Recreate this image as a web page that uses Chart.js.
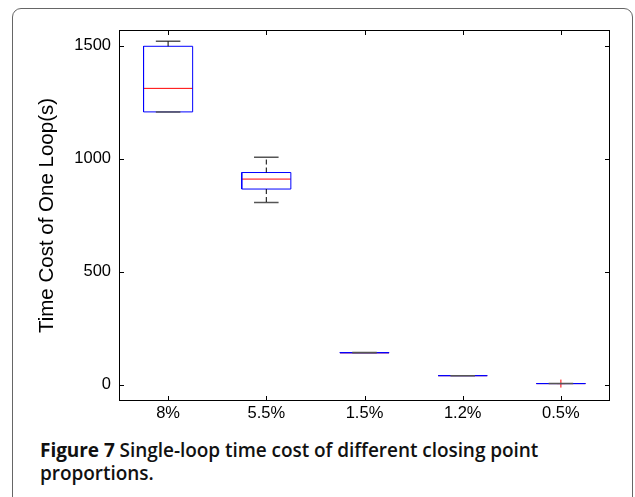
<!DOCTYPE html>
<html>
<head>
<meta charset="utf-8">
<script src="https://cdn.jsdelivr.net/npm/chart.js@4.4.1/dist/chart.umd.min.js"></script>
<style>
  html, body { margin: 0; padding: 0; background: #fff; width: 635px; height: 497px; overflow: hidden; }
  #frame { position: absolute; left: 12px; top: 8px; width: 619px; height: 600px; border: 1px solid #666; border-radius: 9px; }
  #wrap { position: absolute; left: 0; top: 0; width: 635px; height: 430px; }
  #caption { position: absolute; left: 40px; top: 439px; width: 540px; font-family: "Open Sans", sans-serif; font-weight: 600; font-size: 19px; line-height: 23px; color: #111; letter-spacing: -0.05px; }
  #caption b { font-weight: 700; }
</style>
</head>
<body>
<div id="frame"></div>
<div id="wrap"><canvas id="c" width="635" height="430"></canvas></div>
<div id="caption"><b>Figure 7</b> Single-loop time cost of different closing point proportions.</div>
<script>
// ---- data ----
const categories  = ['8%', '5.5%', '1.5%', '1.2%', '0.5%'];
const whiskerHigh = [1519, 1006, 143, 41, 6];
const quartile3   = [1497, 939, 143, 41, 6];
const medians     = [1311, 910, 142, 41, 6];
const quartile1   = [1207, 866, 142, 41, 6];
const whiskerLow  = [1207, 807, 142, 41, 6];
const outlierCat  = [5];
const outlierVal  = [6];
const yTicks      = [0, 500, 1000, 1500];
const yAxisTitle  = 'Time Cost of One Loop(s)';

const BOX_HALF = 0.25, CAP_HALF = 0.125;
const GAP = {x: null, y: null};

function segs(fn) {
  const out = [];
  categories.forEach((c, i) => { out.push(...fn(i + 1, i)); out.push(GAP); });
  return out;
}

const boxPts = segs((x, i) => [
  {x: x - BOX_HALF, y: quartile1[i]}, {x: x + BOX_HALF, y: quartile1[i]},
  {x: x + BOX_HALF, y: quartile3[i]}, {x: x - BOX_HALF, y: quartile3[i]},
  {x: x - BOX_HALF, y: quartile1[i]}]);
const medPts = segs((x, i) => [{x: x - BOX_HALF, y: medians[i]}, {x: x + BOX_HALF, y: medians[i]}]);
const upWPts = segs((x, i) => [{x: x, y: quartile3[i]}, {x: x, y: whiskerHigh[i]}]);
const loWPts = segs((x, i) => [{x: x, y: quartile1[i]}, {x: x, y: whiskerLow[i]}]);
const capPts = segs((x, i) => [{x: x - CAP_HALF, y: whiskerHigh[i]}, {x: x + CAP_HALF, y: whiskerHigh[i]}, GAP,
                               {x: x - CAP_HALF, y: whiskerLow[i]}, {x: x + CAP_HALF, y: whiskerLow[i]}]);
const outPts = outlierCat.map((c, i) => ({x: c, y: outlierVal[i]}));

const lineDs = (data, color, dash, width) => ({
  data, showLine: true, spanGaps: false, borderColor: color, borderWidth: width || 1,
  borderDash: dash || [], pointRadius: 0, fill: false, tension: 0
});

const frameTicks = {
  id: 'frameTicks',
  afterDatasetsDraw(chart) {
    const {ctx, chartArea: a, scales} = chart;
    ctx.save();
    ctx.strokeStyle = '#000';
    ctx.lineWidth = 1;
    ctx.strokeRect(Math.round(a.left) + 0.5, Math.round(a.top) + 0.5, Math.round(a.right - a.left) - 1, Math.round(a.bottom - a.top) - 1);
    const L = 5;
    ctx.beginPath();
    scales.x.ticks.forEach(t => {
      const px = Math.round(scales.x.getPixelForValue(t.value)) + 0.5;
      ctx.moveTo(px, a.bottom); ctx.lineTo(px, a.bottom - L);
      ctx.moveTo(px, a.top); ctx.lineTo(px, a.top + L);
    });
    scales.y.ticks.forEach(t => {
      const py = Math.round(scales.y.getPixelForValue(t.value)) + 0.5;
      ctx.moveTo(a.left, py); ctx.lineTo(a.left + L, py);
      ctx.moveTo(a.right, py); ctx.lineTo(a.right - L, py);
    });
    ctx.stroke();
    ctx.restore();
  }
};

new Chart(document.getElementById('c'), {
  type: 'scatter',
  data: {
    datasets: [
      lineDs(upWPts, '#000', [5, 3]),
      lineDs(loWPts, '#000', [5, 3]),
      lineDs(capPts, '#555', [], 1.5),
      lineDs(boxPts, '#0000ff'),
      lineDs(medPts, '#ff0000'),
      {data: outPts, showLine: false, pointStyle: 'cross', pointRadius: 4, borderColor: '#ff0000', borderWidth: 1, backgroundColor: '#ff0000'}
    ]
  },
  options: {
    responsive: false,
    animation: false,
    events: [],
    layout: {padding: {left: 0, top: 30, right: 25, bottom: 0}},
    plugins: {legend: {display: false}, tooltip: {enabled: false}},
    scales: {
      x: {
        type: 'linear', min: 0.5, max: 5.5,
        afterBuildTicks: s => { s.ticks = categories.map((c, i) => ({value: i + 1})); },
        afterFit: s => { s.height = 29; },
        grid: {display: false, drawTicks: false},
        border: {display: false},
        ticks: {
          padding: 3, color: '#000', maxRotation: 0, autoSkip: false,
          font: {family: '"Liberation Sans", Arial, sans-serif', size: 16.5},
          callback: v => categories[Math.round(v) - 1]
        }
      },
      y: {
        type: 'linear', min: -71, max: 1569,
        afterBuildTicks: s => { s.ticks = yTicks.map(v => ({value: v})); },
        afterFit: s => { s.width = 119; },
        grid: {display: false, drawTicks: false},
        border: {display: false},
        title: {
          display: true, text: yAxisTitle, color: '#000',
          font: {family: '"Liberation Sans", Arial, sans-serif', size: 20.5, lineHeight: 1.2},
          padding: {top: 35, bottom: 0}
        },
        ticks: {
          padding: 8, color: '#000',
          font: {family: '"Liberation Sans", Arial, sans-serif', size: 16.5},
          callback: v => String(v)
        }
      }
    }
  },
  plugins: [frameTicks]
});
</script>
</body>
</html>
